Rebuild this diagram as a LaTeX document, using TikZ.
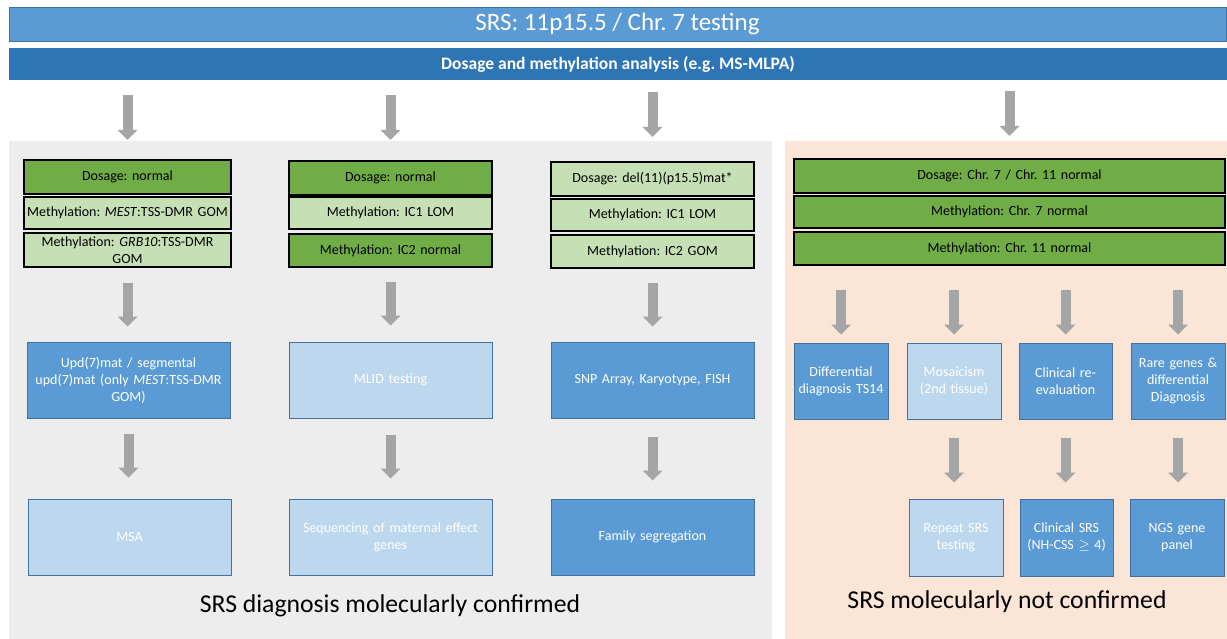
\documentclass[tikz,border=0pt]{standalone}
\usepackage{fontspec}
\setmainfont{Carlito}
\usetikzlibrary{arrows.meta}
\definecolor{barblue}{HTML}{5B9BD5}
\definecolor{darkblue}{HTML}{2E75B6}
\definecolor{bordblue}{HTML}{41719C}
\definecolor{lightblue}{HTML}{BDD7EE}
\definecolor{dkgreen}{HTML}{70AD47}
\definecolor{ltgreen}{HTML}{C5E0B4}
\definecolor{panelgray}{HTML}{EDEDED}
\definecolor{panelpeach}{HTML}{FBE5D6}
\definecolor{arrgray}{HTML}{A5A5A5}
\frenchspacing
\begin{document}
\begin{tikzpicture}[x=1pt,y=-1pt,
  box/.style={rectangle, inner sep=1pt, align=center, font=\fontsize{14}{17}\selectfont},
  gdark/.style={box, fill=dkgreen, draw=black, line width=1.3pt},
  glight/.style={box, fill=ltgreen, draw=black, line width=1.3pt},
  bdark/.style={box, fill=barblue, draw=bordblue, line width=1pt, text=white},
  blight/.style={box, fill=lightblue, draw=bordblue, line width=1pt, text=white},
  wide/.style={minimum width=#1pt, text width={#1pt-4pt}},
  tall/.style={minimum height=#1pt},
  panel/.style={rectangle, inner sep=0pt, draw=none},
  barrow/.style={draw=arrgray, line width=10pt, -{Triangle[width=20pt,length=10pt,line width=0pt]}},
  caption/.style={font=\fontsize{25.7}{30}\selectfont, inner sep=0pt}
]
\useasboundingbox (0,0) rectangle (1227,639);
\fill[white] (0,0) rectangle (1227,639);

% header bars
\node[panel, fill=barblue, draw=bordblue, line width=0.8pt, minimum width=1217pt, minimum height=34pt,
      text=white, font=\fontsize{25}{30}\selectfont] (title) at (617.5,24) {SRS: 11p15.5 / Chr. 7 testing};
\node[panel, fill=darkblue, minimum width=1218pt, minimum height=32pt,
      text=white, font=\fontsize{17.5}{21}\selectfont\bfseries] (method) at (618,64) {Dosage and methylation analysis (e.g. MS-MLPA)};

% panels
\node[panel, fill=panelgray, minimum width=763pt, minimum height=498pt] (conf) at (390.5,390) {};
\node[panel, fill=panelpeach, minimum width=442pt, minimum height=498pt] (nconf) at (1006,390) {};

% column 1
\node[gdark, wide=207, tall=34] (a1) at (127.5,177) {Dosage: normal};
\node[glight, wide=207, tall=32] (a2) at (127.5,213) {Methylation: \textit{MEST}:TSS-DMR GOM};
\node[glight, wide=207, tall=34] (a3) at (127.5,250) {Methylation: \textit{GRB10}:TSS-DMR\\GOM};
\node[bdark, wide=203, tall=76] (a4) at (128.5,380) {Upd(7)mat / segmental\\upd(7)mat (only \textit{MEST}:TSS-DMR\\GOM)};
\node[blight, wide=203, tall=76] (a5) at (129.5,537) {MSA};

% column 2
\node[gdark, wide=203, tall=34] (b1) at (390.5,178) {Dosage: normal};
\node[glight, wide=203, tall=32] (b2) at (390.5,213) {Methylation: IC1 LOM};
\node[gdark, wide=203, tall=33] (b3) at (390.5,250.5) {Methylation: IC2 normal};
\node[blight, wide=203, tall=76] (b4) at (390.5,380) {MLID testing};
\node[blight, wide=203, tall=76] (b5) at (390.5,537) {Sequencing of maternal effect\\genes};

% column 3
\node[glight, wide=203, tall=34] (c1) at (652.5,179) {Dosage: del(11)(p15.5)mat*};
\node[glight, wide=203, tall=32] (c2) at (652.5,215) {Methylation: IC1 LOM};
\node[glight, wide=203, tall=33] (c3) at (652.5,251.5) {Methylation: IC2 GOM};
\node[bdark, wide=203, tall=76] (c4) at (652.5,380) {SNP Array, Karyotype, FISH};
\node[bdark, wide=203, tall=76] (c5) at (652.5,537) {Family segregation};

% right block
\node[gdark, wide=431, tall=34] (r1) at (1009.5,176) {Dosage: Chr. 7 / Chr. 11 normal};
\node[gdark, wide=431, tall=32] (r2) at (1009.5,212) {Methylation: Chr. 7 normal};
\node[gdark, wide=431, tall=33] (r3) at (1009.5,248.5) {Methylation: Chr. 11 normal};

\node[bdark, wide=94, tall=76] (s1) at (841,381) {Differential\\diagnosis TS14};
\node[blight, wide=94, tall=76] (s2) at (954,381) {Mosaicism\\(2nd tissue)};
\node[bdark, wide=93, tall=76] (s3) at (1065.5,381) {Clinical re-\\evaluation};
\node[bdark, wide=94, tall=76] (s4) at (1178,381) {Rare genes \&\\differential\\Diagnosis};

\node[blight, wide=94, tall=77] (t2) at (956,537.5) {Repeat SRS\\testing};
\node[bdark, wide=93, tall=77] (t3) at (1066.5,537.5) {Clinical SRS\\(NH-CSS \(\geq\) 4)};
\node[bdark, wide=94, tall=77] (t4) at (1177,537.5) {NGS gene\\panel};

% captions
\node[caption] (capl) at (390,606) {SRS diagnosis molecularly confirmed};
\node[caption] (capr) at (1007,602) {SRS molecularly not confirmed};

% arrows from header
\draw[barrow, shorten <=15pt, shorten >=1pt] (method.south -| a1.north) -- (conf.north -| a1.north);
\draw[barrow, shorten <=15pt, shorten >=1pt] (method.south -| b1.north) -- (conf.north -| b1.north);
\draw[barrow, shorten <=12pt, shorten >=4pt] (method.south -| c1.north) -- (conf.north -| c1.north);
\draw[barrow, shorten <=11pt, shorten >=5pt] (method.south -| r1.north) -- (nconf.north -| r1.north);

% column arrows
\draw[barrow, shorten <=15pt, shorten >=15pt] (a3.south) -- (a3.south |- a4.north);
\draw[barrow, shorten <=15pt, shorten >=21pt] (a4.south) -- (a4.south |- a5.north);
\draw[barrow, shorten <=14pt, shorten >=16pt] (b3.south) -- (b3.south |- b4.north);
\draw[barrow, shorten <=16pt, shorten >=20pt] (b4.south) -- (b4.south |- b5.north);
\draw[barrow, shorten <=14pt, shorten >=15pt] (c3.south) -- (c3.south |- c4.north);
\draw[barrow, shorten <=18pt, shorten >=18pt] (c4.south) -- (c4.south |- c5.north);

% right arrows
\foreach \n in {s1,s2,s3,s4}
  \draw[barrow, shorten <=24pt, shorten >=8pt] (r3.south -| \n.north) -- (\n.north);
\draw[barrow, shorten <=18pt, shorten >=16pt] (s2.south) -- (s2.south |- t2.north);
\draw[barrow, shorten <=18pt, shorten >=16pt] (s3.south) -- (s3.south |- t3.north);
\draw[barrow, shorten <=18pt, shorten >=16pt] (s4.south) -- (s4.south |- t4.north);
\end{tikzpicture}
\end{document}
